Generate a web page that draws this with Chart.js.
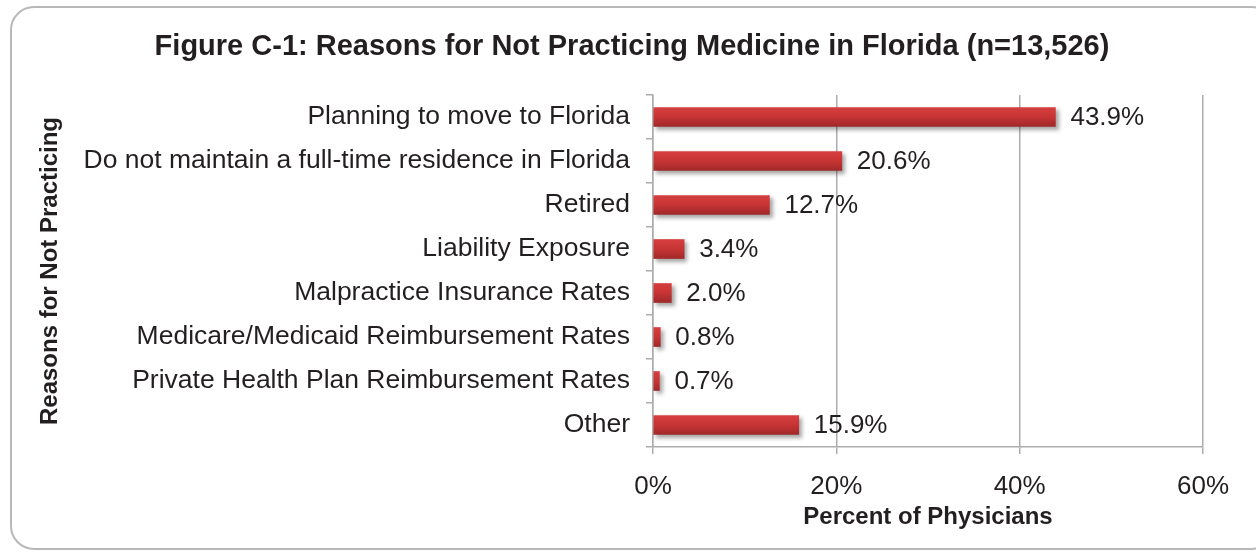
<!DOCTYPE html>
<html lang="en">
<head>
    <meta charset="UTF-8">
    <title>Figure C-1</title>
    <script src="https://cdn.jsdelivr.net/npm/chart.js@4.4.1/dist/chart.umd.min.js"></script>
    <style>
        body {
            margin: 0;
            background: #fff;
            font-family: "Liberation Sans", Arial, sans-serif;
            overflow: hidden;
        }
        .frame {
            position: absolute;
            left: 10px;
            top: 6px;
            width: 1262px;
            height: 540px;
            border: 2px solid #b8b8b8;
            border-radius: 24px;
        }
        .wrap {
            position: absolute;
            left: 0;
            top: 0;
            width: 1256px;
            height: 556px;
        }
    </style>
</head>
<body>
    <div class="frame"></div>
    <div class="wrap"><canvas id="chart"></canvas></div>

    <script>
        // categories and values
        const reasons = [
            'Planning to move to Florida',
            'Do not maintain a full-time residence in Florida',
            'Retired',
            'Liability Exposure',
            'Malpractice Insurance Rates',
            'Medicare/Medicaid Reimbursement Rates',
            'Private Health Plan Reimbursement Rates',
            'Other'
        ];
        const percents = [43.9, 20.6, 12.7, 3.4, 2.0, 0.8, 0.7, 15.9];
        const xTicks = [0, 20, 40, 60];

        const textColor = '#231f20';
        const gridColor = '#adadad';
        const fam = '"Liberation Sans", Arial, sans-serif';

        // bar value labels + drop shadow
        const barExtras = {
            id: 'barExtras',
            beforeDatasetsDraw(chart) {
                const ctx = chart.ctx;
                ctx.save();
                ctx.shadowColor = 'rgba(0,0,0,0.35)';
                ctx.shadowBlur = 4;
                ctx.shadowOffsetX = 3;
                ctx.shadowOffsetY = 3;
            },
            afterDatasetsDraw(chart) {
                const ctx = chart.ctx;
                ctx.restore();
                const meta = chart.getDatasetMeta(0);
                ctx.save();
                ctx.font = '26px ' + fam;
                ctx.fillStyle = textColor;
                ctx.textAlign = 'left';
                ctx.textBaseline = 'middle';
                meta.data.forEach((bar, i) => {
                    ctx.fillText(percents[i].toFixed(1) + '%', bar.x + 15, bar.y + 1);
                });
                ctx.restore();
            }
        };

        function barFill(context) {
            const chart = context.chart;
            const y = chart.scales.y;
            if (!y || y.top === undefined) return '#c83535';
            const c = y.getPixelForValue(context.dataIndex);
            const g = chart.ctx.createLinearGradient(0, c - 10, 0, c + 10);
            g.addColorStop(0, '#d63f3f');
            g.addColorStop(0.5, '#c73434');
            g.addColorStop(1, '#9e2828');
            return g;
        }

        new Chart(document.getElementById('chart'), {
            type: 'bar',
            data: {
                labels: reasons,
                datasets: [{
                    data: percents,
                    backgroundColor: barFill,
                    barThickness: 19,
                    borderWidth: 0
                }]
            },
            plugins: [barExtras],
            options: {
                indexAxis: 'y',
                responsive: true,
                maintainAspectRatio: false,
                animation: false,
                layout: {
                    // left padding also centres the title where the original has it
                    padding: { left: 61, right: 53, top: 0, bottom: 0 }
                },
                plugins: {
                    legend: { display: false },
                    tooltip: { enabled: false },
                    title: {
                        display: true,
                        text: 'Figure C-1: Reasons for Not Practicing Medicine in Florida (n=13,526)',
                        color: textColor,
                        font: { family: fam, size: 29, weight: 'bold' },
                        padding: { top: 30, bottom: 30.2 }
                    }
                },
                scales: {
                    x: {
                        min: 0,
                        max: 60,
                        afterBuildTicks: s => { s.ticks = xTicks.map(v => ({ value: v })); },
                        afterFit: s => { s.height = 109; },
                        ticks: {
                            callback: v => v + '%',
                            color: textColor,
                            padding: 17,
                            font: { family: fam, size: 26 }
                        },
                        grid: {
                            color: gridColor,
                            lineWidth: 1.5,
                            tickLength: 7
                        },
                        border: { color: gridColor, width: 1.5 },
                        title: {
                            display: true,
                            text: 'Percent of Physicians',
                            color: textColor,
                            font: { family: fam, size: 24, weight: 'bold' },
                            padding: { top: 0, bottom: 24 }
                        }
                    },
                    y: {
                        afterFit: s => { s.width = 592; },
                        ticks: {
                            color: textColor,
                            padding: 16,
                            font: { family: fam, size: 26.5 }
                        },
                        grid: {
                            color: gridColor,
                            lineWidth: 1.5,
                            drawOnChartArea: false,
                            tickLength: 7
                        },
                        border: { color: gridColor, width: 1.5 },
                        title: {
                            display: true,
                            text: 'Reasons for Not Practicing',
                            color: textColor,
                            font: { family: fam, size: 24, weight: 'bold' },
                            padding: { top: -25, bottom: 0 }
                        }
                    }
                }
            }
        });
    </script>
</body>
</html>
